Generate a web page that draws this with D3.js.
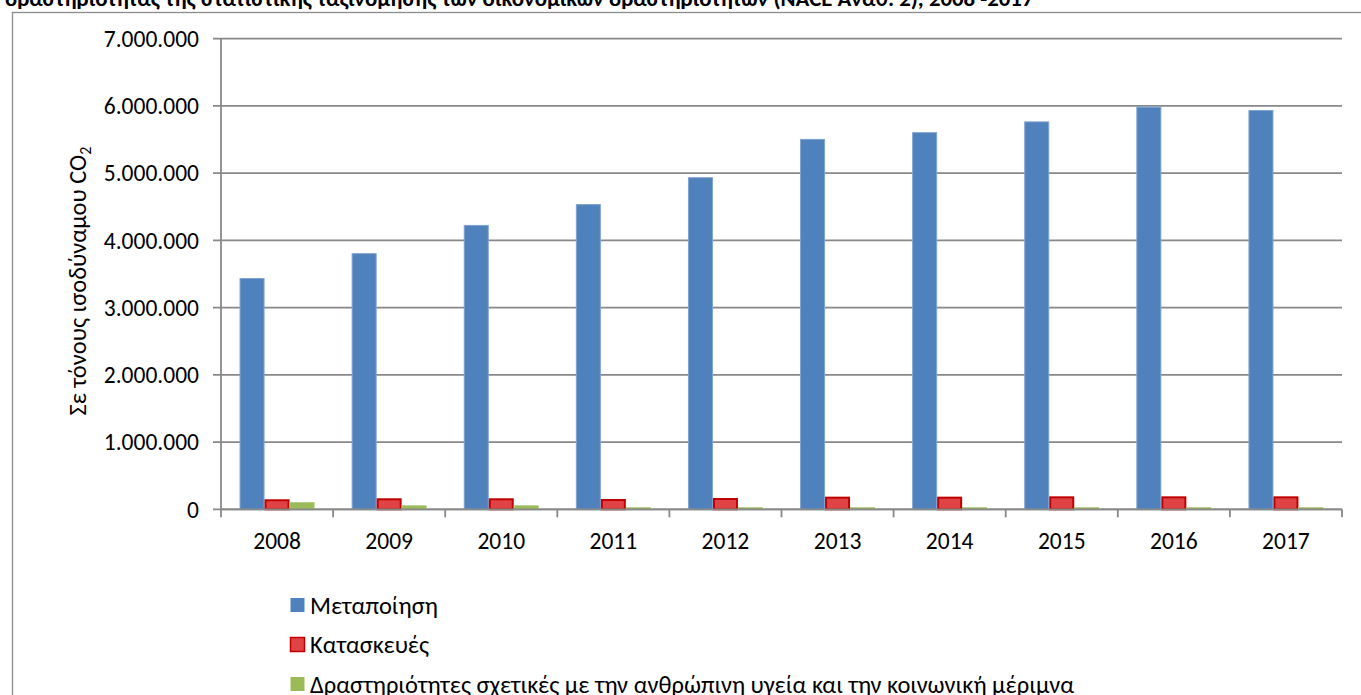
<!DOCTYPE html>
<html>
<head>
<meta charset="utf-8">
<script src="https://cdn.jsdelivr.net/npm/d3@7"></script>
<style>
  body { margin: 0; background: #fff; }
  svg { display: block; font-family: Carlito, Calibri, Roboto, "Noto Sans", sans-serif; }
</style>
</head>
<body>
<div id="plot"></div>
<script>
// Data
const years = ["2008", "2009", "2010", "2011", "2012", "2013", "2014", "2015", "2016", "2017"];
const seriesNames = ["Μεταποίηση", "Κατασκευές", "Δραστηριότητες σχετικές με την ανθρώπινη υγεία και την κοινωνική μέριμνα"];
const manufacturing = [3440000, 3810000, 4230000, 4540000, 4940000, 5510000, 5610000, 5770000, 5990000, 5940000];
const construction = [149000, 164000, 164000, 153000, 168000, 188000, 188000, 193000, 193000, 193000];
const health = [109000, 60000, 60000, 34000, 34000, 34000, 34000, 34000, 34000, 34000];
const yTicks = [0, 1000000, 2000000, 3000000, 4000000, 5000000, 6000000, 7000000];
const titleText = "δραστηριότητας της στατιστικής ταξινόμησης των οικονομικών δραστηριοτήτων (NACE Αναθ. 2), 2008 -2017";

const W = 1361, H = 695;
const plotLeft = 221, plotRight = 1342, plotTop = 38.7, plotBottom = 509.3;
const fontSize = "23.5px";

const svg = d3.select("#plot").append("svg")
  .attr("width", W)
  .attr("height", H);

// Chart frame
svg.append("rect")
  .attr("x", 12.5).attr("y", 12.5)
  .attr("width", W + 10).attr("height", H + 10)
  .attr("fill", "white")
  .attr("stroke", "#8c8c8c")
  .attr("stroke-width", 1.3);

// Title, cut off at the top as in the source
svg.append("text")
  .attr("x", 5).attr("y", 6)
  .style("font-size", "22.8px")
  .style("font-weight", "bold")
  .text(titleText);

// Scales
const x0 = d3.scaleBand().domain(years).range([plotLeft, plotRight]);
const x1 = d3.scaleBand().domain(d3.range(3)).range([0, x0.bandwidth()]).paddingOuter(0.742);
const y = d3.scaleLinear().domain([0, 7000000]).range([plotBottom, plotTop]);

const fmt = v => d3.format(",")(v).replace(/,/g, ".");

// Gridlines
svg.append("g")
  .selectAll("line")
  .data(yTicks)
  .join("line")
  .attr("x1", plotLeft - 8).attr("x2", plotRight)
  .attr("y1", d => y(d)).attr("y2", d => y(d))
  .attr("stroke", "#888")
  .attr("stroke-width", 1.8);

// Y axis line
svg.append("line")
  .attr("x1", plotLeft).attr("x2", plotLeft)
  .attr("y1", plotTop).attr("y2", plotBottom)
  .attr("stroke", "#888")
  .attr("stroke-width", 1.8);

// Y tick labels
svg.append("g")
  .selectAll("text")
  .data(yTicks)
  .join("text")
  .attr("x", 199)
  .attr("y", d => y(d))
  .attr("dy", "0.35em")
  .attr("text-anchor", "end")
  .style("font-size", fontSize)
  .attr("fill", "#000")
  .text(d => fmt(d));

// Y axis title
const yTitle = svg.append("text")
  .attr("transform", "translate(86, 281) rotate(-90)")
  .attr("text-anchor", "middle")
  .style("font-size", "24.5px");
yTitle.append("tspan").text("Σε τόνους ισοδύναμου CO");
yTitle.append("tspan").attr("dy", 5).style("font-size", "16px").text("2");

// Bars
const series = [manufacturing, construction, health];
const fills = ["#4f81bd", "#e04343", "#9bbb59"];
const strokes = ["#7fa3cf", "#c00000", "#b3cc84"];
const strokeW = [1, 2, 0.8];

series.forEach((vals, s) => {
  svg.append("g")
    .selectAll("rect")
    .data(vals)
    .join("rect")
    .attr("x", (d, i) => x0(years[i]) + x1(s) + strokeW[s] / 2)
    .attr("y", d => y(d) + strokeW[s] / 2)
    .attr("width", x1.bandwidth() - strokeW[s])
    .attr("height", d => plotBottom - y(d) - strokeW[s] / 2)
    .attr("fill", fills[s])
    .attr("stroke", strokes[s])
    .attr("stroke-width", strokeW[s]);
});

// X axis line and ticks
svg.append("line")
  .attr("x1", plotLeft).attr("x2", plotRight)
  .attr("y1", plotBottom).attr("y2", plotBottom)
  .attr("stroke", "#888")
  .attr("stroke-width", 1.8);

svg.append("g")
  .selectAll("line")
  .data(years.concat(["end"]))
  .join("line")
  .attr("x1", (d, i) => plotLeft + i * x0.step())
  .attr("x2", (d, i) => plotLeft + i * x0.step())
  .attr("y1", plotBottom).attr("y2", plotBottom + 8)
  .attr("stroke", "#888")
  .attr("stroke-width", 1.8);

svg.append("g")
  .selectAll("text")
  .data(years)
  .join("text")
  .attr("x", d => x0(d) + x0.bandwidth() / 2)
  .attr("y", 549)
  .attr("text-anchor", "middle")
  .style("font-size", fontSize)
  .text(d => d);

// Legend
const legend = svg.append("g")
  .selectAll("g")
  .data(seriesNames)
  .join("g")
  .attr("transform", (d, i) => `translate(290, ${605 + i * 39.5})`);

legend.append("rect")
  .attr("x", 0.5).attr("y", -7)
  .attr("width", 14).attr("height", 14)
  .attr("fill", (d, i) => fills[i])
  .attr("stroke", (d, i) => i === 1 ? "#c00000" : "none")
  .attr("stroke-width", 1.5);

legend.append("text")
  .attr("x", 20)
  .attr("dy", "0.35em")
  .style("font-size", "24.5px")
  .text(d => d);
</script>
</body>
</html>
